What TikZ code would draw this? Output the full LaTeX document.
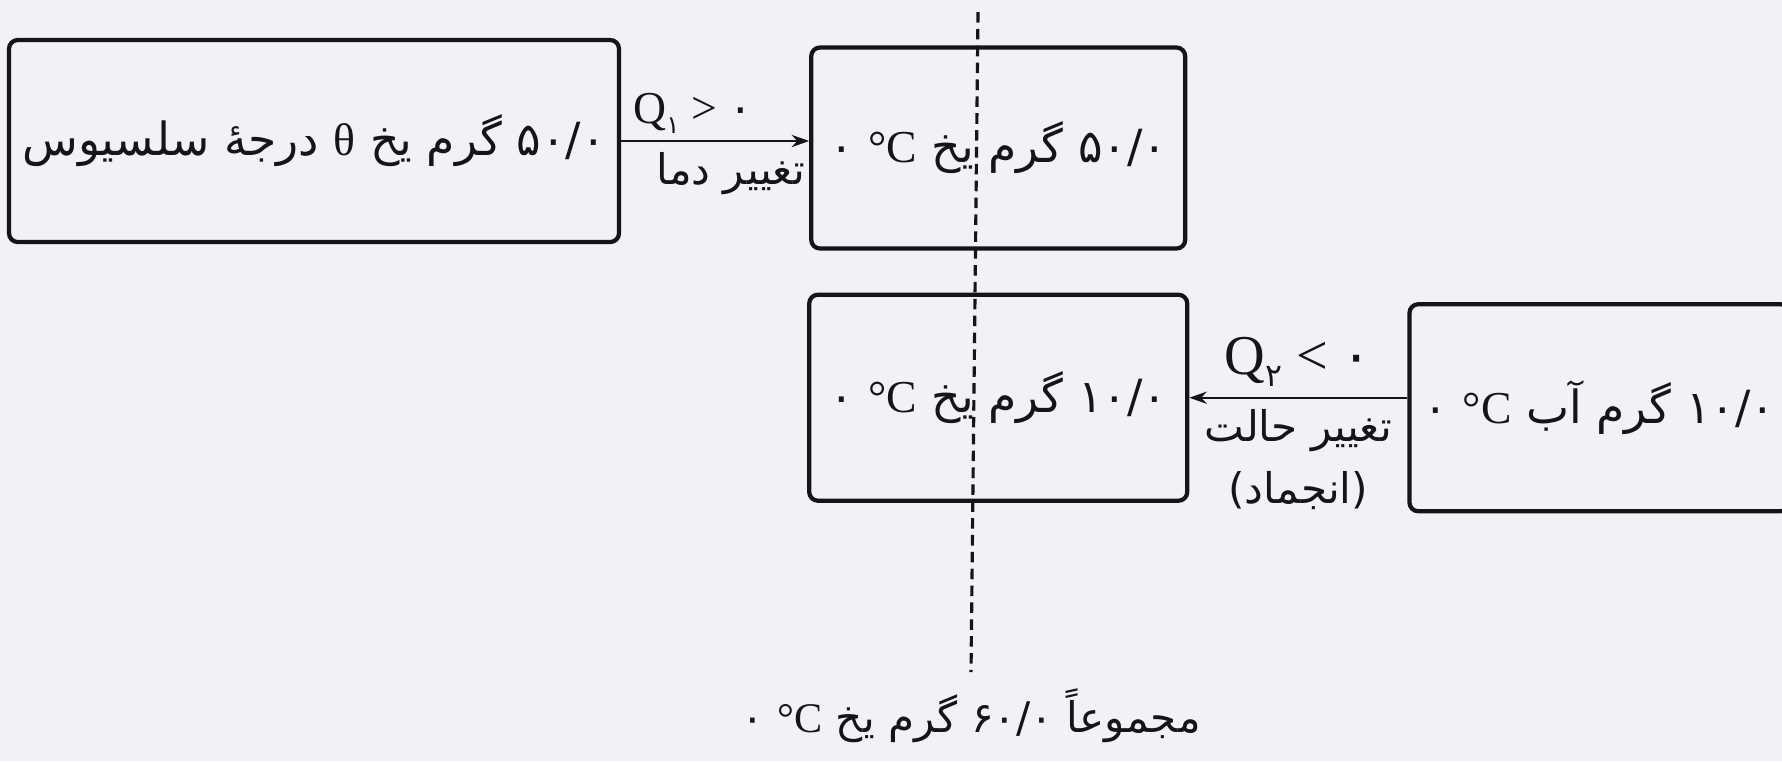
\documentclass[tikz,border=0pt]{standalone}
\usepackage{fontspec}
\setmainfont{Liberation Serif}
\newfontfamily\persianfont[Script=Arabic]{DejaVu Sans}
\TeXXeTstate=1
\usetikzlibrary{arrows.meta, positioning, calc}
\definecolor{scanpaper}{HTML}{F1F2F6}
\definecolor{scanink}{HTML}{151517}
\newcommand{\fatext}[1]{{\persianfont\beginR #1\endR}}

\begin{document}
\begin{tikzpicture}[
      box/.style={rectangle, draw=scanink, line width=1.2pt, rounded corners=2.5pt, inner sep=0pt, text=scanink, font=\fontsize{13}{15}\selectfont},
      flow/.style={draw=scanink, line width=0.45pt, -{Stealth[length=5pt, width=3.5pt]}},
      lbl/.style={inner sep=1pt, text=scanink, font=\fontsize{12}{14}\selectfont},
      cutline/.style={draw=scanink, line width=0.9pt, dash pattern=on 3pt off 1.8pt}
    ]
      % paper
      \fill[scanpaper] (0,0) rectangle (17.82,-7.61);
      \useasboundingbox (0,0) rectangle (17.82,-7.61);

      % ice at theta and ice at zero
      \node[box, minimum width=6.10cm, minimum height=2.02cm] (iceCold) at (3.14,-1.41)
        {\fatext{۵۰/۰ گرم یخ {\rmfamily θ} درجهٔ سلسیوس}};
      \node[box, minimum width=3.74cm, minimum height=2.01cm, right=1.88cm of iceCold, yshift=-0.07cm] (iceWarm)
        {\fatext{۵۰/۰ گرم یخ {\rmfamily °C} ۰}};

      % frozen water
      \node[box, minimum width=3.78cm, minimum height=2.06cm, below=0.42cm of iceWarm] (iceFrozen)
        {\fatext{۱۰/۰ گرم یخ {\rmfamily °C} ۰}};
      \node[box, minimum width=3.80cm, minimum height=2.07cm, right=2.18cm of iceFrozen, yshift=-0.1cm] (water)
        {\fatext{۱۰/۰ گرم آب {\rmfamily °C} ۰}};

      \draw[flow] (iceCold.east) --
        node[lbl, above=1pt, xshift=-0.22cm, font=\fontsize{13}{15}\selectfont] (qIn) {Q\raisebox{-0.45ex}{\persianfont\scriptsize ۱} > {\persianfont ۰}}
        node[lbl, pos=1, anchor=north east, yshift=-2pt] (tempChange) {\fatext{تغییر دما}}
        (iceCold.east -| iceWarm.west);

      \draw[flow] (water.west |- iceFrozen.east) --
        node[lbl, above=2pt, font=\fontsize{16}{18}\selectfont] (qOut) {Q\raisebox{-0.45ex}{\persianfont\small ۲} < {\persianfont ۰}}
        node[lbl, below=2pt] (phaseChange) {\fatext{تغییر حالت}}
        (iceFrozen.east);
      \node[lbl, below=0.12cm of phaseChange] (freezing) {\fatext{(انجماد)}};

      % dividing line and total
      \coordinate (cutTop) at (9.78,-0.12);
      \coordinate (cutBot) at (9.71,-6.72);
      \draw[cutline] (cutTop) -- (cutBot);
      \node[lbl, below=0.12cm of cutBot] (total) {\fatext{مجموعاً ۶۰/۰ گرم یخ {\rmfamily °C} ۰}};
    \end{tikzpicture}
\end{document}
